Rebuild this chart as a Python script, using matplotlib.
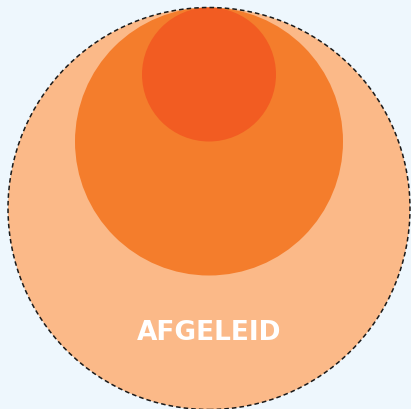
import numpy as np
import matplotlib
matplotlib.use("Agg")
import matplotlib.pyplot as plt
from matplotlib.patches import Circle

# Data
labels = ["Afgeleid", "Midden", "Kern"]
values = [9, 4, 1]
colors = ["#fbb988", "#f47d2c", "#f25c22"]
label_text = "AFGELEID"

W, H = 411, 410
fig = plt.figure(figsize=(W / 100, H / 100), dpi=100)
fig.patch.set_facecolor("#eef7fd")
ax = fig.add_axes([0, 0, 1, 1])
ax.set_facecolor("#eef7fd")

unit = 67.0  # pixels per sqrt-unit
cx_px, cy_px = 209.0, 209.5
ax.set_xlim(-cx_px / unit, (W - cx_px) / unit)
ax.set_ylim((cy_px - H) / unit, cy_px / unit)
ax.set_aspect("equal")
ax.axis("off")

radii = np.sqrt(values)
R = radii[0]
for i, (r, c) in enumerate(zip(radii, colors)):
    cy = R - r
    ax.add_patch(Circle((0, cy), r, facecolor=c, edgecolor="none", zorder=1 + i))
ax.add_patch(Circle((0, 0), R, facecolor="none", edgecolor="#1a1a1a",
                    linewidth=1.1, linestyle=(0, (3, 2)), zorder=10))

ax.text(0, (cy_px - 333) / unit, label_text, ha="center", va="center",
        color="white", fontsize=19, fontweight="bold",
        family=["DejaVu Sans"], zorder=11)

fig.savefig("out.png", dpi=100, facecolor=fig.get_facecolor())
